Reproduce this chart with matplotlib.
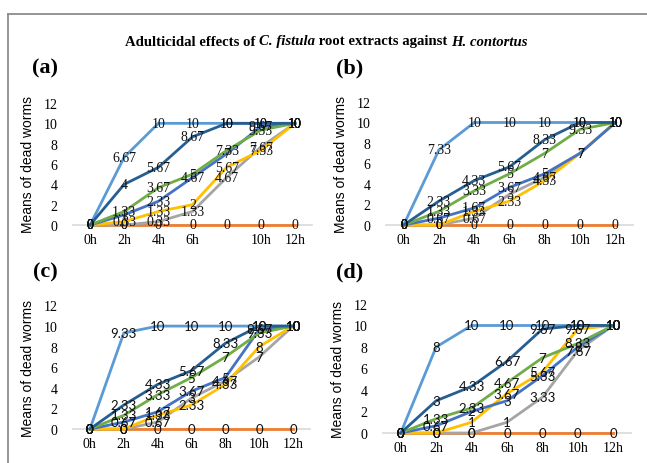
import matplotlib
matplotlib.use("Agg")
import matplotlib.pyplot as plt
from matplotlib.lines import Line2D
from matplotlib.text import Annotation

hours = ["0h", "2h", "4h", "6h", "8h", "10h", "12h"]
hours_a = ["0h", "2h", "4h", "6h", "", "10h", "12h"]
colors = ["#5B9BD5", "#ED7D31", "#A5A5A5", "#FFC000", "#4472C4", "#70AD47", "#255E91"]

# series order: light blue, orange, gray, yellow, royal blue, green, dark blue
a_lightblue = [0, 6.67, 10, 10, 10, 10, 10]
a_orange = [0, 0, 0, 0, 0, 0, 0]
a_gray = [0, 0, 0.33, 1.33, 4.67, 7.67, 10]
a_yellow = [0, 0.33, 1.33, 2, 5.67, 7.33, 10]
a_royal = [0, 1, 2.33, 4.67, 7, 9.67, 10]
a_green = [0, 1.33, 3.67, 5, 7.33, 9.33, 10]
a_dark = [0, 4, 5.67, 8.67, 10, 10, 10]

b_lightblue = [0, 7.33, 10, 10, 10, 10, 10]
b_orange = [0, 0, 0, 0, 0, 0, 0]
b_gray = [0, 0, 0.67, 3, 4.67, 7, 10]
b_yellow = [0, 0, 1.33, 2.33, 4.33, 7, 10]
b_royal = [0, 0.67, 1.67, 3.67, 5, 7, 10]
b_green = [0, 1.33, 3.33, 5, 7, 9.33, 10]
b_dark = [0, 2.33, 4.33, 5.67, 8.33, 10, 10]

c_lightblue = [0, 9.33, 10, 10, 10, 10, 10]
c_orange = [0, 0, 0, 0, 0, 0, 0]
c_gray = [0, 0, 0.67, 3, 4.67, 7, 10]
c_yellow = [0, 0, 1.33, 2.33, 4.33, 8, 10]
c_royal = [0, 0.67, 1.67, 3.67, 5, 9.67, 10]
c_green = [0, 1.33, 3.33, 5, 7, 9.33, 10]
c_dark = [0, 2.33, 4.33, 5.67, 8.33, 10, 10]

d_lightblue = [0, 8, 10, 10, 10, 10, 10]
d_orange = [0, 0, 0, 0, 0, 0, 0]
d_gray = [0, 0, 0, 1, 3.33, 7.67, 10]
d_yellow = [0, 0, 1, 3.67, 5.67, 9.67, 10]
d_royal = [0, 0.67, 2, 3, 5.33, 8, 10]
d_green = [0, 1.33, 2.33, 4.67, 7, 8.33, 10]
d_dark = [0, 3, 4.33, 6.67, 9.67, 10, 10]

W, H = 647, 464
fig = plt.figure(figsize=(W / 100, H / 100), dpi=100)

SERIF = "Liberation Serif"
SANS = "Liberation Sans"


def rect(l, r, b, t):
    return [l / W, 1 - b / H, (r - l) / W, (b - t) / H]


def fmt(v):
    if abs(v - round(v)) < 1e-9:
        return "%d" % round(v)
    return ("%.2f" % v).rstrip("0").rstrip(".")


def panel(r, series, xlabels, label_font, label_size):
    ax = fig.add_axes(r)
    x = list(range(len(hours)))
    for s, c in zip(series, colors):
        ax.plot(x, s, color=c, lw=2.0, solid_joinstyle="miter", clip_on=False, zorder=3)
    for s in series:
        for xi, v in zip(x, s):
            ax.text(xi, v, fmt(v), ha="center", va="center", fontsize=label_size,
                    family=label_font, color="#111111", zorder=5, clip_on=False)
    ax.set_xlim(-0.5, 6.5)
    ax.set_ylim(0, 12)
    ax.set_yticks(range(0, 13, 2))
    ax.set_xticks(x)
    ax.set_xticklabels(xlabels)
    for sp in ["top", "right", "left"]:
        ax.spines[sp].set_visible(False)
    ax.spines["bottom"].set_color("#D9D9D9")
    ax.spines["bottom"].set_linewidth(1.2)
    ax.spines["bottom"].set_zorder(1)
    ax.tick_params(length=0, labelsize=10, pad=6)
    ax.tick_params(axis="y", pad=11)
    for t in ax.get_xticklabels() + ax.get_yticklabels():
        t.set_family(SERIF)
    ax.set_ylabel("Means of dead worms", family=SANS, fontsize=10, labelpad=6)
    ax.patch.set_alpha(0)
    return ax


panel(rect(73, 312, 226, 104),
      [a_lightblue, a_orange, a_gray, a_yellow, a_royal, a_green, a_dark], hours_a, SERIF, 10)
panel(rect(386, 633, 226, 103),
      [b_lightblue, b_orange, b_gray, b_yellow, b_royal, b_green, b_dark], hours, SERIF, 10)
panel(rect(73, 310, 430, 306.5),
      [c_lightblue, c_orange, c_gray, c_yellow, c_royal, c_green, c_dark], hours, "Lato", 9.5)
panel(rect(383, 631, 434, 305),
      [d_lightblue, d_orange, d_gray, d_yellow, d_royal, d_green, d_dark], hours, "Lato", 9.5)

# outer frame
fig.add_artist(Line2D([8 / W, 1], [1 - 15 / H, 1 - 15 / H], color="#8C8C8C", lw=1.3))
fig.add_artist(Line2D([8 / W, 8 / W], [0, 1 - 15 / H], color="#8C8C8C", lw=1.3))

# title with mixed styles
parts = [("Adulticidal effects of ", "normal"), ("C. fistula", "italic"),
         (" root extracts against ", "normal"), ("H. contortus", "italic")]
y_t = 1 - 42 / H
prev = fig.text(125 / W, y_t, parts[0][0], family=SERIF, weight="bold", fontsize=10.6,
                va="center", ha="left")
for txt, st in parts[1:]:
    prev = fig.add_artist(Annotation(
        txt, xy=(1, 0.5), xycoords=prev, va="center", ha="left",
        family=SERIF, weight="bold", style=st, fontsize=10.6))

for lbl, xp, yp in [("(a)", 45, 68), ("(b)", 350, 68), ("(c)", 45, 272), ("(d)", 350, 272)]:
    fig.text(xp / W, 1 - yp / H, lbl, family=SERIF, weight="bold", fontsize=16,
             ha="center", va="center")

fig.savefig("out.png", dpi=100)
